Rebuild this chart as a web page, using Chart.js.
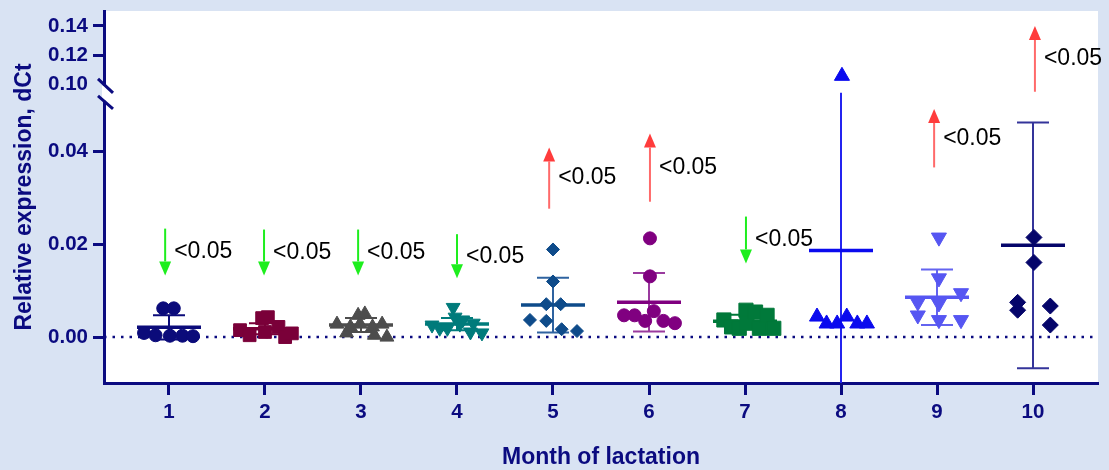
<!DOCTYPE html>
<html>
<head>
<meta charset="utf-8">
<script src="https://cdn.jsdelivr.net/npm/chart.js@4.4.0/dist/chart.umd.min.js"></script>
<style>
    html, body { margin: 0; padding: 0; background: #D9E3F3; }
    #wrap { width: 1109px; height: 470px; }
</style>
</head>
<body>
<div id="wrap"><canvas id="chart"></canvas></div>
<script>
const colors = {
    page: '#D9E3F3',
    plot: '#FFFFFF',
    axis: '#0B0B80',
    down: '#1EEE1E',
    upLine: '#FF6A6A',
    upHead: '#FF3C3C'
};

Chart.defaults.font.family = '"Liberation Sans", Arial, sans-serif';
Chart.defaults.color = colors.axis;

// categories / ticks
const months = [1, 2, 3, 4, 5, 6, 7, 8, 9, 10];
const xRange = [0.323, 10.677];
const lowerTicks = [0, 0.02, 0.04];
const upperTicks = [0.10, 0.12, 0.14];
const lowerRange = [-0.0099, 0.0527];
const upperRange = [0.0946, 0.1501];

// individual values per month (jitter is the sideways spread, in month units)
const jitter1 = [-0.06, 0.05, -0.26, -0.14, 0.01, 0.14, 0.25];
const values1 = [0.0062, 0.0062, 0.0009, 0.0004, 0.0003, 0.0003, 0.0002];
const jitter2 = [-0.26, -0.16, -0.03, 0.03, 0.00, 0.14, 0.21, 0.28];
const values2 = [0.0015, 0.0004, 0.0041, 0.0043, 0.0011, 0.0022, 0.0000, 0.0008];
const jitter3 = [-0.25, -0.15, -0.11, -0.03, 0.04, -0.01, 0.12, 0.22, 0.14, 0.27];
const values3 = [0.0028, 0.0009, 0.0022, 0.0047, 0.0050, 0.0028, 0.0022, 0.0028, 0.0004, 0.0000];
const jitter4 = [-0.26, -0.18, -0.10, -0.04, -0.02, 0.06, 0.17, 0.14, 0.26, 0.03];
const values4 = [0.0026, 0.0019, 0.0019, 0.0064, 0.0043, 0.0037, 0.0030, 0.0011, 0.0009, 0.0028];
const jitter5 = [0.00, 0.00, -0.07, 0.08, -0.24, -0.07, 0.09, 0.25];
const values5 = [0.0189, 0.0120, 0.0071, 0.0071, 0.0037, 0.0035, 0.0017, 0.0013];
const jitter6 = [0.01, 0.01, 0.05, -0.26, -0.15, -0.04, 0.15, 0.27];
const values6 = [0.0213, 0.0131, 0.0056, 0.0047, 0.0047, 0.0035, 0.0035, 0.0030];
const jitter7 = [-0.22, -0.14, -0.06, 0.01, 0.02, 0.11, 0.15, 0.23, 0.30];
const values7 = [0.0037, 0.0022, 0.0019, 0.0058, 0.0030, 0.0054, 0.0019, 0.0047, 0.0019];
const jitter8 = [-0.25, -0.15, -0.04, 0.06, 0.17, 0.27];
const values8 = [0.0044, 0.0029, 0.0029, 0.0044, 0.0029, 0.0029];
const jitter8Top = [0.01];
const values8Top = [0.1060];
const jitter9 = [0.02, 0.02, -0.20, 0.02, 0.25, -0.20, 0.02, 0.25];
const values9 = [0.0215, 0.0127, 0.0075, 0.0073, 0.0095, 0.0047, 0.0037, 0.0037];
const jitter10 = [0.01, 0.01, -0.16, -0.16, 0.18, 0.18];
const values10 = [0.0215, 0.0161, 0.0075, 0.0058, 0.0067, 0.0026];

// mean and SD per month
const means = [0.0021, 0.0018, 0.0026, 0.0028, 0.0069, 0.0075, 0.0034, 0.0187, 0.0086, 0.0198];
const sds = [0.0026, 0.0012, 0.0015, 0.0013, 0.0059, 0.0063, 0.0014, 0.0386, 0.0060, 0.0265];

// significance arrows
const arrowMonth = [0.96, 1.99, 2.97, 4.00, 4.96, 6.01, 7.01, 8.97, 10.02];
const arrowFrom = [0.0234, 0.0232, 0.0232, 0.0222, 0.0277, 0.0292, 0.0260, 0.0366, 0.0953];
const arrowTo = [0.0133, 0.0133, 0.0133, 0.0127, 0.0409, 0.0439, 0.0159, 0.0492, 0.1400];
const arrowAxis = ['y', 'y', 'y', 'y', 'y', 'y', 'y', 'y', 'y2'];
const pLabels = ['<0.05', '<0.05', '<0.05', '<0.05', '<0.05', '<0.05', '<0.05', '<0.05', '<0.05'];

const groupStyles = [
    { shape: 'circle', r: 6.5, rot: 0, color: '#0B0B7A', bar: '#0B0B7A' },
    { shape: 'rect', r: 9, rot: 0, color: '#7A0039', bar: '#7A0039' },
    { shape: 'triangle', r: 8, rot: 0, color: '#4D4D4D', bar: '#4D4D4D' },
    { shape: 'triangle', r: 8, rot: 180, color: '#007B7B', bar: '#007B7B' },
    { shape: 'rectRot', r: 6.5, rot: 0, color: '#0E4B8A', bar: '#2F63A0' },
    { shape: 'circle', r: 6.5, rot: 0, color: '#800080', bar: '#9A3A9E' },
    { shape: 'rect', r: 10, rot: 0, color: '#00793A', bar: '#00793A' },
    { shape: 'triangle', r: 8.7, rot: 0, color: '#0A0AEE', bar: '#2424F0' },
    { shape: 'triangle', r: 8.7, rot: 180, color: '#5656F2', bar: '#6464F0' },
    { shape: 'rectRot', r: 8, rot: 0, color: '#05056A', bar: '#34349A' }
];

function groupDataset(index, jitter, values, axis) {
    const s = groupStyles[index];
    return {
        type: 'scatter',
        data: values.map((v, k) => ({ x: months[index] + jitter[k], y: v })),
        yAxisID: axis,
        pointStyle: s.shape,
        pointRadius: s.r,
        pointHoverRadius: s.r,
        pointRotation: s.rot,
        backgroundColor: s.color,
        borderColor: s.color,
        borderWidth: 1,
        order: 1
    };
}

const datasets = [
    {
        type: 'line',
        data: [{ x: xRange[0], y: 0 }, { x: xRange[1], y: 0 }],
        yAxisID: 'y',
        borderColor: colors.axis,
        borderWidth: 2.5,
        borderDash: [2.5, 6],
        pointRadius: 0,
        order: 20
    },
    groupDataset(0, jitter1, values1, 'y'),
    groupDataset(1, jitter2, values2, 'y'),
    groupDataset(2, jitter3, values3, 'y'),
    groupDataset(3, jitter4, values4, 'y'),
    groupDataset(4, jitter5, values5, 'y'),
    groupDataset(5, jitter6, values6, 'y'),
    groupDataset(6, jitter7, values7, 'y'),
    groupDataset(7, jitter8, values8, 'y'),
    groupDataset(7, jitter8Top, values8Top, 'y2'),
    groupDataset(8, jitter9, values9, 'y'),
    groupDataset(9, jitter10, values10, 'y')
];

function drawArrow(ctx, x, y0, y1, lineColor, headColor) {
    const dir = y1 > y0 ? 1 : -1;
    const head = 14;
    const half = 6;
    ctx.strokeStyle = lineColor;
    ctx.lineWidth = 2;
    ctx.beginPath();
    ctx.moveTo(x, y0);
    ctx.lineTo(x, y1 - dir * head);
    ctx.stroke();
    ctx.fillStyle = headColor;
    ctx.beginPath();
    ctx.moveTo(x, y1);
    ctx.lineTo(x - half, y1 - dir * head);
    ctx.lineTo(x + half, y1 - dir * head);
    ctx.closePath();
    ctx.fill();
}

const decorations = {
    id: 'decorations',
    beforeDraw(chart) {
        const { ctx, chartArea: a } = chart;
        ctx.save();
        ctx.fillStyle = colors.page;
        ctx.fillRect(0, 0, chart.width, chart.height);
        ctx.fillStyle = colors.plot;
        ctx.fillRect(a.left, a.top, a.right - a.left, a.bottom - a.top);
        ctx.restore();
    },
    beforeDatasetsDraw(chart) {
        const { ctx, chartArea: a } = chart;
        const xs = chart.scales.x;
        const ys = chart.scales.y;
        ctx.save();
        ctx.beginPath();
        ctx.rect(a.left, ys.top, a.right - a.left, ys.bottom - ys.top);
        ctx.clip();
        months.forEach((m, i) => {
            const s = groupStyles[i];
            const px = xs.getPixelForValue(m);
            const pm = ys.getPixelForValue(means[i]);
            const pt = ys.getPixelForValue(means[i] + sds[i]);
            const pb = ys.getPixelForValue(means[i] - sds[i]);
            ctx.strokeStyle = s.bar;
            ctx.lineWidth = 2;
            ctx.beginPath();
            ctx.moveTo(px, pt); ctx.lineTo(px, pb);
            ctx.moveTo(px - 16, pt); ctx.lineTo(px + 16, pt);
            ctx.moveTo(px - 16, pb); ctx.lineTo(px + 16, pb);
            ctx.stroke();
            ctx.strokeStyle = s.color;
            ctx.lineWidth = 3.5;
            ctx.beginPath();
            ctx.moveTo(px - 32, pm); ctx.lineTo(px + 32, pm);
            ctx.stroke();
        });
        ctx.restore();
    },
    afterDraw(chart) {
        const { ctx, chartArea: a } = chart;
        const xs = chart.scales.x;
        ctx.save();

        // significance arrows
        arrowMonth.forEach((m, i) => {
            const ys = chart.scales[arrowAxis[i]];
            const px = xs.getPixelForValue(m);
            const y0 = ys.getPixelForValue(arrowFrom[i]);
            const y1 = ys.getPixelForValue(arrowTo[i]);
            if (arrowTo[i] < arrowFrom[i]) {
                drawArrow(ctx, px, y0, y1, colors.down, colors.down);
            } else {
                drawArrow(ctx, px, y0, y1, colors.upLine, colors.upHead);
            }
            ctx.fillStyle = '#000';
            ctx.font = '23px "Liberation Sans", Arial, sans-serif';
            ctx.textAlign = 'left';
            ctx.textBaseline = 'middle';
            ctx.fillText(pLabels[i], px + 9, (y0 + y1) / 2);
        });

        // axis break
        const yb = chart.scales.y.top;
        const xa = a.left;
        ctx.fillStyle = colors.plot;
        ctx.fillRect(xa - 2, yb - 7, 5, 15);
        ctx.strokeStyle = colors.axis;
        ctx.lineWidth = 3;
        ctx.beginPath();
        ctx.moveTo(xa - 6, yb - 14); ctx.lineTo(xa + 9, yb);
        ctx.moveTo(xa - 6, yb + 3); ctx.lineTo(xa + 9, yb + 16);
        ctx.stroke();

        // y title spanning both segments
        ctx.translate(25, (a.top + a.bottom) / 2);
        ctx.rotate(-Math.PI / 2);
        ctx.fillStyle = colors.axis;
        ctx.font = 'bold 23px "Liberation Sans", Arial, sans-serif';
        ctx.textAlign = 'center';
        ctx.textBaseline = 'middle';
        ctx.fillText('Relative expression, dCt', 0, 0);
        ctx.restore();
    }
};

const tickFont = { size: 20.5, weight: 'bold' };

function fixLeftAxis(axis) {
    axis.width = 60;
    axis.paddingTop = 0;
    axis.paddingBottom = 0;
}

new Chart(document.getElementById('chart'), {
    type: 'scatter',
    data: { datasets: datasets },
    plugins: [decorations],
    options: {
        responsive: true,
        maintainAspectRatio: false,
        animation: false,
        layout: { padding: { left: 44, right: 11, top: 10, bottom: 0 } },
        plugins: {
            legend: { display: false },
            tooltip: { enabled: false }
        },
        scales: {
            x: {
                type: 'linear',
                position: 'bottom',
                min: xRange[0],
                max: xRange[1],
                afterBuildTicks: axis => { axis.ticks = months.map(v => ({ value: v })); },
                afterFit: axis => { axis.height = 87; axis.paddingLeft = 0; axis.paddingRight = 0; },
                ticks: { font: tickFont, color: colors.axis, padding: 5, autoSkip: false, maxRotation: 0, callback: v => String(v) },
                grid: { drawOnChartArea: false, tickLength: 12, tickWidth: 3, tickColor: colors.axis },
                border: { display: true, color: colors.axis, width: 3 },
                title: {
                    display: true,
                    text: 'Month of lactation',
                    color: colors.axis,
                    font: { size: 23, weight: 'bold', lineHeight: 1.1 },
                    padding: 0
                }
            },
            y: {
                type: 'linear',
                position: 'left',
                stack: 'split',
                stackWeight: 291,
                weight: 0,
                min: lowerRange[0],
                max: lowerRange[1],
                afterBuildTicks: axis => { axis.ticks = lowerTicks.map(v => ({ value: v })); },
                afterFit: fixLeftAxis,
                ticks: { font: tickFont, color: colors.axis, padding: 5, autoSkip: false, callback: v => v.toFixed(2) },
                grid: { drawOnChartArea: false, tickLength: 11, tickWidth: 3, tickColor: colors.axis },
                border: { display: true, color: colors.axis, width: 3 }
            },
            y2: {
                type: 'linear',
                position: 'left',
                stack: 'split',
                stackWeight: 82,
                weight: 1,
                min: upperRange[0],
                max: upperRange[1],
                afterBuildTicks: axis => { axis.ticks = upperTicks.map(v => ({ value: v })); },
                afterFit: fixLeftAxis,
                ticks: { font: tickFont, color: colors.axis, padding: 5, autoSkip: false, callback: v => v.toFixed(2) },
                grid: {
                    drawOnChartArea: false,
                    tickLength: 11,
                    tickWidth: 3,
                    tickColor: ctx => (ctx.tick && Math.abs(ctx.tick.value - 0.10) < 1e-9) ? 'rgba(0,0,0,0)' : colors.axis
                },
                border: { display: true, color: colors.axis, width: 3 }
            }
        }
    }
});
</script>
</body>
</html>
